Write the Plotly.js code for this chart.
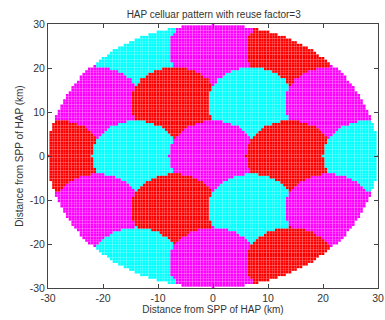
<!DOCTYPE html>
<html>
<head>
<meta charset="utf-8">
<script src="https://cdn.plot.ly/plotly-3.0.1.min.js"></script>
<style>html,body{margin:0;padding:0;background:#fff;}#chart{width:385px;height:320px;}</style>
</head>
<body>
<div id="chart"></div>
<script>
// Cell centres (km) in drawing order, and their reuse colour group
const cellX = [-14, 0, 14, -21, -7, 7, 21, -28, -14, 0, 14, 28, -21, -7, 7, 21, -14, 0, 14];
const cellY = [24.25, 24.25, 24.25, 12.12, 12.12, 12.12, 12.12, 0, 0, 0, 0, 0, -12.12, -12.12, -12.12, -12.12, -24.25, -24.25, -24.25];
const cellGroup = ['cyan', 'magenta', 'red', 'magenta', 'red', 'cyan', 'magenta', 'red', 'cyan', 'magenta', 'red', 'cyan', 'magenta', 'red', 'cyan', 'magenta', 'cyan', 'magenta', 'red'];
const cellRadius = 8;        // km
const coverageRadius = 30;   // km
const sampleStepX = 0.5;     // km, sampling grid of the coverage area
const sampleStepY = 0.6;
const groupNames = ['cyan', 'magenta', 'red'];
const groupColors = {cyan: '#00FFFF', magenta: '#FF00FF', red: '#FF0000'};
const xTicks = [-30, -20, -10, 0, 10, 20, 30];
const yTicks = [-30, -20, -10, 0, 10, 20, 30];

function assign(x, y) {
  let g = null;
  for (let i = 0; i < cellX.length; i++) {
    const d = Math.hypot(x - cellX[i], y - cellY[i]);
    if (d <= cellRadius) g = cellGroup[i];
  }
  if (g === null) {
    let best = Infinity;
    for (let i = 0; i < cellX.length; i++) {
      const d = Math.hypot(x - cellX[i], y - cellY[i]);
      if (d < best) { best = d; g = cellGroup[i]; }
    }
  }
  return g;
}

const pts = {cyan: {x: [], y: []}, magenta: {x: [], y: []}, red: {x: [], y: []}};
const nx = Math.round(2 * coverageRadius / sampleStepX);
const ny = Math.round(2 * coverageRadius / sampleStepY);
for (let i = 0; i <= nx; i++) {
  const x = -coverageRadius + i * sampleStepX;
  for (let j = 0; j <= ny; j++) {
    const y = -coverageRadius + j * sampleStepY;
    if (x * x + y * y > coverageRadius * coverageRadius + 1e-9) continue;
    const g = assign(x, y);
    pts[g].x.push(x); pts[g].y.push(y);
  }
}

const traces = groupNames.map(g => ({
  type: 'scatter', mode: 'markers', x: pts[g].x, y: pts[g].y,
  marker: {symbol: 'square', size: 2.6, color: groupColors[g], line: {width: 0}},
  hoverinfo: 'skip', showlegend: false, cliponaxis: true
}));

const fontFam = 'Liberation Sans, Arial, sans-serif';
const axisCommon = {
  range: [-30, 30], showgrid: false, zeroline: false,
  showline: true, mirror: 'ticks', linecolor: '#444', linewidth: 1,
  ticks: 'inside', ticklen: 4, tickcolor: '#444',
  ticklabeloverflow: 'allow',
  tickfont: {family: fontFam, size: 10.5, color: '#333'}
};

const layout = {
  width: 385, height: 320,
  margin: {l: 48, r: 7, t: 24, b: 32},
  paper_bgcolor: '#fff', plot_bgcolor: '#fff',
  title: {text: 'HAP celluar pattern with reuse factor=3', x: 0.555, xanchor: 'center', y: 0.965, yanchor: 'top',
          font: {family: fontFam, size: 10, color: '#333'}},
  xaxis: Object.assign({}, axisCommon, {tickvals: xTicks, ticktext: xTicks.map(String), automargin: false,
          title: {text: 'Distance from SPP of HAP (km)', standoff: 2, font: {family: fontFam, size: 10, color: '#333'}}}),
  yaxis: Object.assign({}, axisCommon, {tickvals: yTicks, ticktext: yTicks.map(String), automargin: false,
          title: {text: 'Distance from SPP of HAP (km)', standoff: 4, font: {family: fontFam, size: 10, color: '#333'}}}),
  showlegend: false
};

Plotly.newPlot('chart', traces, layout, {staticPlot: true, displayModeBar: false});
</script>
</body>
</html>
